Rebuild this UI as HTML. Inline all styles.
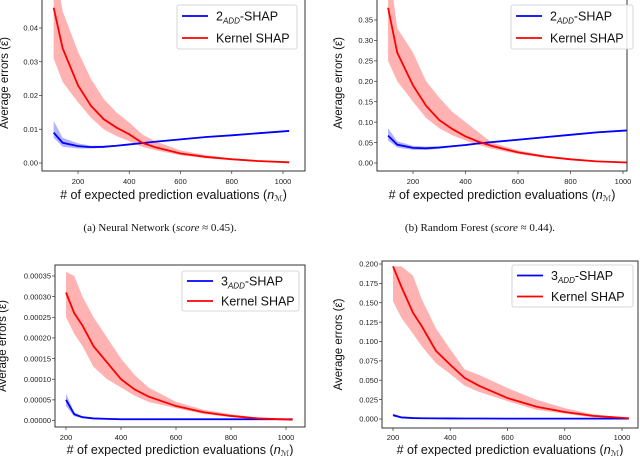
<!DOCTYPE html>
<html><head><meta charset="utf-8"><style>
body{margin:0;background:#fff;width:640px;height:456px;overflow:hidden}
svg{display:block}
text{font-family:"Liberation Sans",sans-serif}
</style></head><body>
<svg id="fig" width="640" height="456"></svg>
<script>
// Chart (a) Neural Network
const aX=[105,140,200,250,300,350,400,450,500,600,700,800,900,1024];
const aKernel=[0.046,0.034,0.023,0.017,0.013,0.0105,0.0085,0.006,0.0047,0.0028,0.0018,0.0011,0.0006,0.0002];
const aKernelHi=[0.06,0.045,0.033,0.025,0.019,0.015,0.012,0.0085,0.0065,0.0037,0.0023,0.0014,0.0008,0.0003];
const aKernelLo=[0.031,0.024,0.018,0.0135,0.010,0.008,0.0065,0.0048,0.0038,0.0023,0.0014,0.0008,0.0004,0.0001];
const aAdd=[0.009,0.006,0.005,0.0047,0.0048,0.0051,0.0055,0.0059,0.0063,0.007,0.0077,0.0082,0.0088,0.0095];
const aAddHi=[0.0125,0.0075,0.0058,0.0051,0.0051,0.0053,0.0057,0.0061,0.0065,0.0072,0.0079,0.0084,0.009,0.0097];
const aAddLo=[0.0075,0.0048,0.0043,0.0043,0.0045,0.0049,0.0053,0.0057,0.0061,0.0068,0.0075,0.008,0.0086,0.0093];
const aYTicks=[0,0.01,0.02,0.03,0.04];
// Chart (b) Random Forest
const bX=[105,140,200,250,300,350,400,450,500,600,700,800,900,1024];
const bKernel=[0.38,0.27,0.19,0.14,0.105,0.083,0.065,0.052,0.042,0.026,0.016,0.009,0.004,0.001];
const bKernelHi=[0.5,0.33,0.27,0.2,0.16,0.125,0.10,0.075,0.05,0.031,0.019,0.011,0.005,0.0015];
const bKernelLo=[0.25,0.2,0.15,0.11,0.085,0.068,0.055,0.044,0.035,0.022,0.013,0.007,0.003,0.0005];
const bAdd=[0.067,0.045,0.037,0.036,0.038,0.041,0.044,0.048,0.051,0.057,0.063,0.069,0.075,0.08];
const bAddHi=[0.085,0.053,0.042,0.04,0.041,0.043,0.046,0.05,0.053,0.059,0.065,0.071,0.077,0.082];
const bAddLo=[0.055,0.038,0.032,0.032,0.035,0.039,0.042,0.046,0.049,0.055,0.061,0.067,0.073,0.078];
const bYTicks=[0,0.05,0.1,0.15,0.2,0.25,0.3,0.35];
// Chart (c)
const cX=[200,230,260,300,350,400,450,500,600,700,800,900,1024];
const cKernel=[0.00031,0.00026,0.00023,0.00018,0.00014,0.0001,0.000075,0.000058,0.000035,0.00002,0.000011,0.000005,0.000002];
const cKernelHi=[0.00036,0.00035,0.0003,0.00025,0.0002,0.00015,0.00011,0.00008,0.000045,0.000026,0.000015,0.000007,0.000003];
const cKernelLo=[0.00025,0.00021,0.00018,0.00013,0.0001,0.00008,0.00006,0.000045,0.00003,0.000016,0.000008,0.000003,0.000001];
const cAdd=[0.00005,0.000015,0.000008,0.000005,0.000004,0.000003,0.000003,0.000003,0.000003,0.000003,0.000003,0.000003,0.000003];
const cAddHi=[0.000065,0.00002,0.00001,0.000007,0.000006,0.000005,0.000005,0.000005,0.000005,0.000005,0.000005,0.000005,0.000005];
const cAddLo=[0.000035,0.00001,0.000006,0.000004,0.000002,0.000001,0.000001,0.000001,0.000001,0.000001,0.000001,0.000001,0.000001];
const cYTicks=[0,0.00005,0.0001,0.00015,0.0002,0.00025,0.0003,0.00035];
// Chart (d)
const dX=[200,230,270,300,350,400,450,500,600,700,800,900,1024];
const dKernel=[0.197,0.17,0.137,0.12,0.088,0.07,0.053,0.043,0.027,0.016,0.009,0.004,0.001];
const dKernelHi=[0.197,0.197,0.185,0.155,0.117,0.09,0.064,0.057,0.04,0.025,0.014,0.006,0.0015];
const dKernelLo=[0.152,0.13,0.11,0.094,0.072,0.058,0.043,0.035,0.023,0.012,0.007,0.002,0.0005];
const dAdd=[0.005,0.002,0.0012,0.001,0.0008,0.0007,0.0006,0.0006,0.0005,0.0005,0.0005,0.0005,0.0005];
const dAddHi=[0.007,0.003,0.0016,0.0013,0.001,0.0009,0.0008,0.0008,0.0007,0.0007,0.0007,0.0007,0.0007];
const dAddLo=[0.003,0.0012,0.0008,0.0007,0.0006,0.0005,0.0004,0.0004,0.0003,0.0003,0.0003,0.0003,0.0003];
const dYTicks=[0,0.025,0.05,0.075,0.1,0.125,0.15,0.175,0.2];
const xTicks=[200,400,600,800,1000];

const NS="http://www.w3.org/2000/svg";
const svg=document.getElementById('fig');
function mk(tag,attrs,parent){const e=document.createElementNS(NS,tag);for(const k in attrs)e.setAttribute(k,attrs[k]);(parent||svg).appendChild(e);return e;}

function chart(id,box,xp,yp,xs,kern,kHi,kLo,add,aHi,aLo,yTicks,dec,addLabel,leg,ylabX,xlabY,tickY){
  const g=mk('g',{});
  
  
  const X=v=>xp[0]+(v-200)*(xp[1]-xp[0])/800;
  const Y=v=>yp[0]+v*(yp[1]-yp[0])/yp[2];
  const clip=mk('clipPath',{id:'clip'+id},g);
  mk('rect',{x:box[0],y:box[1],width:box[2]-box[0],height:box[3]-box[1]},clip);
  const pg=mk('g',{'clip-path':'url(#clip'+id+')'},g);
  function band(hi,lo,col,name){
    let d='M'+xs.map((x,i)=>X(x)+','+Y(hi[i])).join('L');
    for(let i=xs.length-1;i>=0;i--)d+='L'+X(xs[i])+','+Y(lo[i]);
    const p=mk('path',{d:d+'Z',fill:col,'fill-opacity':0.3,stroke:'none'},pg);
    
    
  }
  function line(vals,col,name){
    const p=mk('path',{d:'M'+xs.map((x,i)=>X(x)+','+Y(vals[i])).join('L'),fill:'none',stroke:col,'stroke-width':1.8},pg);
    
    
  }
  band(kHi,kLo,'#ff0000','kernel-shap-band');
  band(aHi,aLo,'#0000ff','add-shap-band');
  line(add,'#0000ff','add-shap-line');
  line(kern,'#ff0000','kernel-shap-line');
  const fr=mk('rect',{x:box[0],y:box[1],width:box[2]-box[0],height:box[3]-box[1],fill:'none',stroke:'#333','stroke-width':1},g);
  
  
  xTicks.forEach(t=>{
    mk('line',{x1:X(t),x2:X(t),y1:box[3],y2:box[3]+3,stroke:'#333','stroke-width':0.7},g);
    const tx=mk('text',{x:X(t),y:tickY,'font-size':7.5,'text-anchor':'middle',fill:'#222'},g);
    tx.textContent=t;
    
    
  });
  yTicks.forEach(t=>{
    mk('line',{x1:box[0]-3,x2:box[0],y1:Y(t),y2:Y(t),stroke:'#333','stroke-width':0.7},g);
    const tx=mk('text',{x:box[0]-4,y:Y(t)+2.7,'font-size':7.5,'text-anchor':'end',fill:'#222'},g);
    tx.textContent=t.toFixed(dec);
    
    
  });
  const yl=mk('text',{x:0,y:0,'font-size':11.5,'text-anchor':'middle',fill:'#111',transform:'translate('+ylabX+','+((box[1]+box[3])/2)+') rotate(-90)'},g);
  yl.textContent='Average errors (ε̄)';
  
  
  const xl=mk('text',{x:(box[0]+box[2])/2,y:xlabY,'font-size':12.5,'text-anchor':'middle',fill:'#111'},g);
  xl.innerHTML='# of expected prediction evaluations (<tspan font-style="italic">n</tspan><tspan font-size="8" dy="2">ℳ</tspan><tspan dy="-2">)</tspan>';
  
  
  const lg=mk('g',{},g);
  
  
  mk('rect',{x:leg[0],y:leg[1],width:leg[2]-leg[0],height:leg[3]-leg[1],fill:'#fff','fill-opacity':0.85,stroke:'#ccc','stroke-width':0.8,rx:2},lg);
  const rowH=(leg[3]-leg[1])/2;
  [[addLabel,'#0000ff'],['Kernel SHAP','#ff0000']].forEach((e,i)=>{
    const cy=leg[1]+rowH*(i+0.5);
    mk('line',{x1:leg[0]+5,x2:leg[0]+31,y1:cy,y2:cy,stroke:e[1],'stroke-width':1.8},lg);
    const t=mk('text',{x:leg[0]+39,y:cy+4.5,'font-size':12.5,fill:'#111'},lg);
    if(i==0)t.innerHTML=e[0]+'<tspan font-size="8" font-style="italic" dy="3">ADD</tspan><tspan dy="-3">-SHAP</tspan>';
    else t.textContent=e[0];
    
    
  });
}
chart('a',[42,-5,305,171],[78,283],[163,28,0.04],aX,aKernel,aKernelHi,aKernelLo,aAdd,aAddHi,aAddLo,aYTicks,2,'2',[177,5,297,49],8,199,184);
chart('b',[377,-5,627,171],[413,623],[163,20,0.35],bX,bKernel,bKernelHi,bKernelLo,bAdd,bAddHi,bAddLo,bYTicks,2,'2',[511,5,633,49],342,199,184);
chart('c',[55,265,305,427],[66,286],[420.5,276,0.00035],cX,cKernel,cKernelHi,cKernelLo,cAdd,cAddHi,cAddLo,cYTicks,5,'3',[182,271,299,311],6,454,440);
chart('d',[382,261,638,428],[393,622],[419,264,0.2],dX,dKernel,dKernelHi,dKernelLo,dAdd,dAddHi,dAddLo,dYTicks,3,'3',[512,265,633,307],342,454,440);
[['(a) Neural Network (','0.45',160],['(b) Random Forest (','0.44',480]].forEach(c=>{
  const t=mk('text',{x:c[2],y:231,'font-size':11,'text-anchor':'middle',fill:'#111',style:'font-family:"Liberation Serif",serif'});
  t.innerHTML=c[0]+'<tspan font-style="italic">score</tspan> ≈ '+c[1]+').';
  
  
});
</script>
</body></html>
